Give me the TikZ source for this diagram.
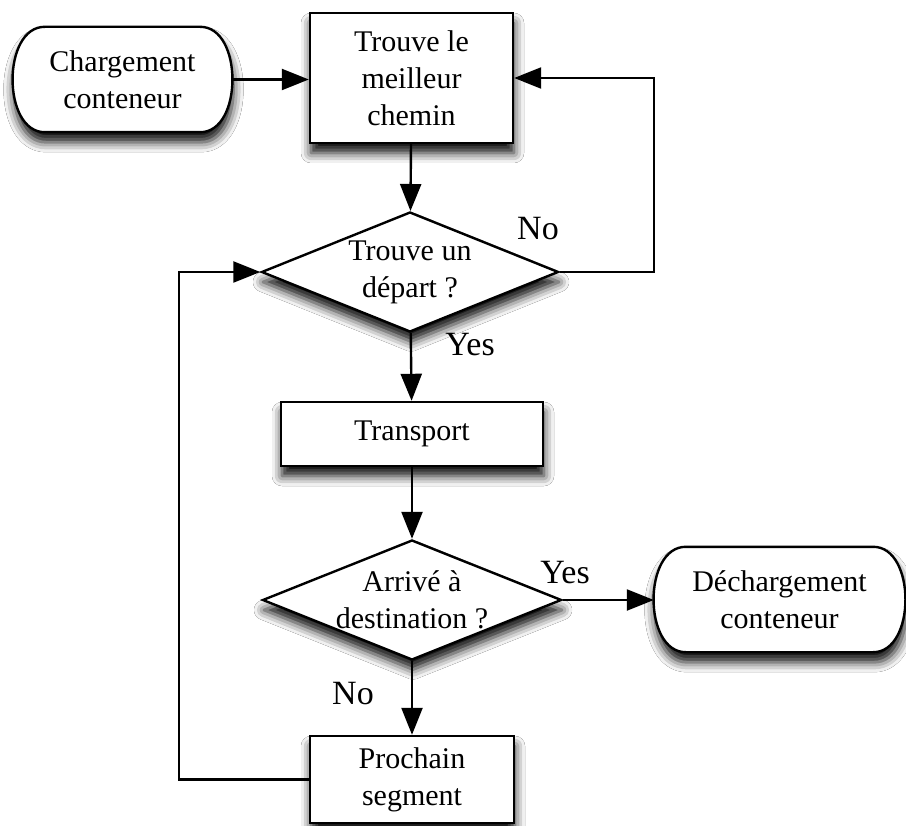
\documentclass[tikz,border=0pt]{standalone}
\usepackage{fontspec}
\setmainfont{Liberation Serif}
\usetikzlibrary{arrows.meta,shapes.geometric,shadows.blur,backgrounds,calc}
\begin{document}
\begin{tikzpicture}[x=1pt,y=-1pt,
  every node/.style={font=\fontsize{30}{37}\selectfont, align=center},
  ln/.style={line width=2.4pt},
  arr/.style={ln, -{Triangle[length=27pt,width=21pt]}},
  shad/.style={blur shadow={shadow xshift=1pt, shadow yshift=-10pt, shadow blur radius=10pt, shadow opacity=95}},
  boxnode/.style={draw, ln, fill=white, rectangle, inner sep=0pt, shad},
  decnode/.style={draw, ln, fill=white, diamond, inner sep=0pt, shad},
  termnode/.style={rectangle, inner sep=0pt},
  lab/.style={inner sep=0pt, font=\fontsize{34}{40}\selectfont}
]
\useasboundingbox (0,0) rectangle (906,826);

\node[boxnode, minimum width=203pt, minimum height=130pt] (best) at (411.5,78) {Trouve le\\meilleur\\chemin};
\node[termnode, minimum width=219pt, minimum height=105pt] (load) at (122.5,79.5) {Chargement\\conteneur};
\node[decnode, minimum width=297pt, minimum height=120pt] (dep) at (410,272) {};
\node (dept) at (dep.center) {Trouve un\\départ ?};
\node[boxnode, minimum width=262pt, minimum height=64pt] (trans) at (412,434) {Transport};
\node[decnode, minimum width=299pt, minimum height=120pt] (dest) at (412,600) {};
\node (destt) at (dest.center) {Arrivé à\\destination ?};
\node[termnode, minimum width=251pt, minimum height=105pt] (unload) at (779.5,599.5) {Déchargement\\conteneur};
\node[boxnode, minimum width=204pt, minimum height=87pt] (next) at (412,779.5) {Prochain\\segment};

\coordinate (rno) at (654,0);
\coordinate (lloop) at (179,0);

\draw[arr] (load.east) -- (load.east -| best.west);
\draw[arr] (best) -- (dep);
\draw[arr] (dep.east) -- (dep.east -| rno) |- (best.east);
\draw[arr] (dep) -- (trans);
\draw[arr] (trans) -- (dest);
\draw[arr] (dest.east) -- (dest.east -| unload.west);
\draw[arr] (dest) -- (next);
\draw[arr] (next.west) -- (next.west -| lloop) |- (dep.west);

\node[lab] (no1) at (538,229) {No};
\node[lab] (yes1) at (470,345) {Yes};
\node[lab] (yes2) at (565,573) {Yes};
\node[lab] (no2) at (353,694) {No};

\begin{pgfonlayer}{background}
\fill[white] (0,0) rectangle (906,826);
\foreach \n in {load,unload}{
\draw[ln, fill=white, shad] ($(\n.north west)+(32,0)$) -- ($(\n.north east)+(-32,0)$)
  .. controls ($(\n.north east)+(11,0)$) and ($(\n.south east)+(11,0)$) .. ($(\n.south east)+(-32,0)$)
  -- ($(\n.south west)+(32,0)$)
  .. controls ($(\n.south west)+(-11,0)$) and ($(\n.north west)+(-11,0)$) .. cycle;
}
\end{pgfonlayer}
\end{tikzpicture}
\end{document}
